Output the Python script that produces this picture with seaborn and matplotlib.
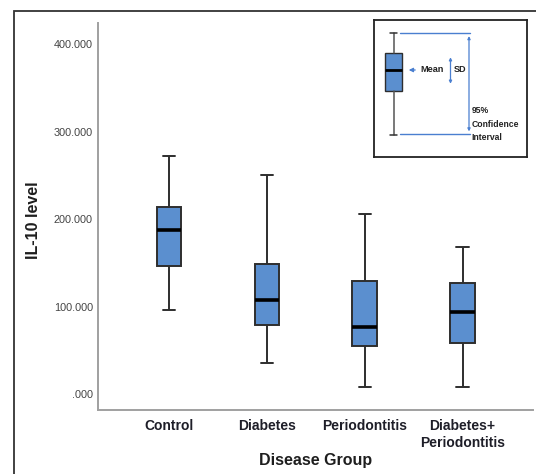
"""
IL-10 level by disease group (box plot, SPSS style) with a legend key inset.
"""

import pandas as pd
import matplotlib
matplotlib.use("Agg")
import matplotlib.pyplot as plt
from matplotlib.patches import Rectangle
from matplotlib.ticker import FuncFormatter
import seaborn as sns

# Five-number summaries: min, q1, median, q3, max
groups = ["Control", "Diabetes", "Periodontitis", "Diabetes+\nPeriodontitis"]
control = [96.1, 146.1, 187.3, 214.3, 272.6]
diabetes = [35.8, 79.3, 107.6, 148.4, 250.6]
periodontitis = [8.4, 54.9, 77.0, 129.7, 205.9]
diab_perio = [8.4, 58.0, 93.8, 126.7, 167.8]
yticks = [0, 100, 200, 300, 400]

# Long-form table for seaborn
df = pd.DataFrame({
    "group": [g for g in groups for _ in range(5)],
    "value": control + diabetes + periodontitis + diab_perio,
})

sns.set_theme(style="white")
plt.rcParams["font.family"] = ["Liberation Sans", "DejaVu Sans"]

BLUE = "#5b8fcf"
EDGE = "#2e2e2e"
LINE_BLUE = "#4a7fd0"

fig = plt.figure(figsize=(5.36, 4.74), dpi=100)
ax = fig.add_axes([0.1823, 0.1344, 0.8121, 0.8177])

sns.boxplot(
    data=df, x="group", y="value", order=groups, ax=ax,
    width=0.25, whis=(0, 100), showfliers=False, color=BLUE, saturation=1,
    linecolor=EDGE, linewidth=1.4,
    medianprops=dict(color="black", linewidth=2.6),
)

ax.set_ylim(-18.6, 424.8)
ax.set_xlim(-0.729, 3.72)
ax.set_yticks(yticks)
ax.yaxis.set_major_formatter(FuncFormatter(lambda v, p: f"{v:.3f}".lstrip("0")))
ax.tick_params(axis="y", length=0, pad=3.5, labelsize=7.8, labelcolor="#444444")
ax.tick_params(axis="x", length=0, pad=6, labelsize=10, labelcolor="#1e1e28")
for lab in ax.get_xticklabels():
    lab.set_fontweight("bold")
    lab.set_linespacing(1.3)

for side in ["top", "right"]:
    ax.spines[side].set_visible(False)
for side in ["left", "bottom"]:
    ax.spines[side].set_color("#a0a0a0")
    ax.spines[side].set_linewidth(1.4)

ax.set_xlabel("Disease Group", fontsize=11.5, fontweight="bold", color="#1e1e1e", labelpad=2)
ax.set_ylabel("IL-10 level", fontsize=11.5, fontweight="bold", color="#1e1e1e")
ax.yaxis.set_label_coords(-0.13, 0.49)

# Outer frame (runs off the right and bottom edges)
fig.patches.append(Rectangle((14.5 / 536, -0.05), 1.1, 1 - 10.7 / 474 + 0.05,
                             transform=fig.transFigure, fill=False,
                             edgecolor="#333333", linewidth=1.3))

# Legend key inset, drawn in its own pixel-like coordinates
key = fig.add_axes([374 / 536, 1 - 157 / 474, 153 / 536, 137 / 474])
key.bxp([dict(whislo=114.7, q1=70.7, med=50, q3=32.7, whishi=13.3)],
        positions=[19.5], widths=17, capwidths=7.5, patch_artist=True,
        showfliers=False, manage_ticks=False,
        boxprops=dict(facecolor=BLUE, edgecolor=EDGE, linewidth=1.0),
        whiskerprops=dict(color="#555555", linewidth=1.1),
        capprops=dict(color="#333333", linewidth=1.1),
        medianprops=dict(color="black", linewidth=2.0))
key.set_xlim(0, 153)
key.set_ylim(137, 0)
key.set_xticks([])
key.set_yticks([])
for s in key.spines.values():
    s.set_color("#222222")
    s.set_linewidth(1.3)

arrow_kw = dict(arrowstyle="-|>", color=LINE_BLUE, lw=0.9, mutation_scale=6)
key.annotate("", xy=(32, 50), xytext=(44, 50), arrowprops=arrow_kw)
key.text(46, 50, "Mean", fontsize=6.6, fontweight="bold", color="#222222",
         va="center", ha="left")
key.annotate("", xy=(76.5, 34.5), xytext=(76.5, 66.5),
             arrowprops=dict(arrowstyle="<|-|>", color=LINE_BLUE, lw=0.9, mutation_scale=4))
key.text(80, 50, "SD", fontsize=6.6, fontweight="bold", color="#222222",
         va="center", ha="left")

key.plot([26, 95.5], [13.3, 13.3], color=LINE_BLUE, lw=1.0)
key.plot([26, 95.5], [114.2, 114.2], color=LINE_BLUE, lw=1.0)
key.annotate("", xy=(95, 13.3), xytext=(95, 114.2),
             arrowprops=dict(arrowstyle="<|-|>", color=LINE_BLUE, lw=0.9, mutation_scale=4))
for y, t in zip([90, 104, 117.5], ["95%", "Confidence", "Interval"]):
    key.text(97.5, y, t, fontsize=6.2, fontweight="bold", color="#222222",
             va="center", ha="left")

fig.savefig("out.png", dpi=100)
